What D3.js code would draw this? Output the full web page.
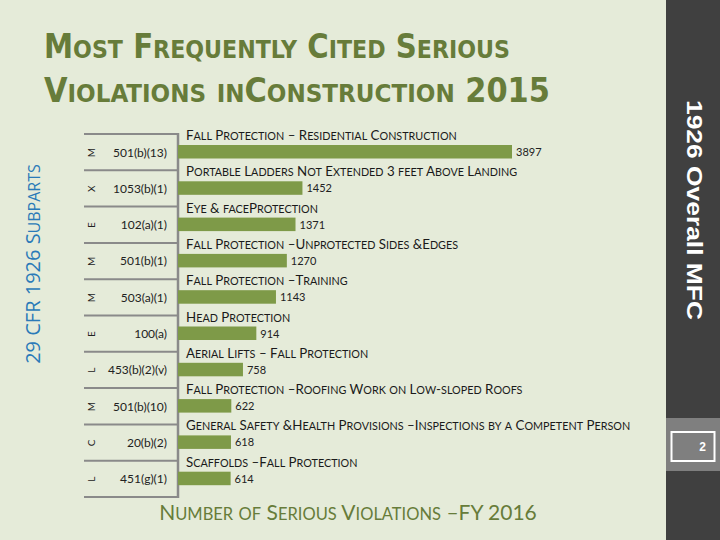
<!DOCTYPE html>
<html>
<head>
<meta charset="utf-8">
<script src="https://cdn.jsdelivr.net/npm/d3@7"></script>
<style>
  body { margin: 0; background: #e5ebd9; }
  svg { display: block; }
</style>
</head>
<body>
<svg id="chart" width="720" height="540"></svg>
<script>
// Chart data
const codes = ['501(b)(13)', '1053(b)(1)', '102(a)(1)', '501(b)(1)', '503(a)(1)',
               '100(a)', '453(b)(2)(v)', '501(b)(10)', '20(b)(2)', '451(g)(1)'];
const subparts = ['M', 'X', 'E', 'M', 'M', 'E', 'L', 'M', 'C', 'L'];
const descriptions = [
    'Fall Protection – Residential Construction',
    'Portable Ladders Not Extended 3 feet  Above Landing',
    'Eye & faceProtection',
    'Fall Protection –Unprotected Sides &Edges',
    'Fall Protection –Training',
    'Head Protection',
    'Aerial Lifts – Fall Protection',
    'Fall Protection –Roofing Work on Low-sloped Roofs',
    'General Safety &Health Provisions –Inspections by a Competent Person',
    'Scaffolds –Fall Protection'
];
const counts = [3897, 1452, 1371, 1270, 1143, 914, 758, 622, 618, 614];

const svg = d3.select('#chart');
const olive = '#677c3a';
const barColor = '#7e9a48';
const lineColor = '#8a8a8a';

// small caps by hand: lowercase letters become smaller capitals
function smallCaps(sel, str, big, small) {
    const runs = [];
    for (const ch of str) {
        const low = ch !== ch.toUpperCase();
        const last = runs[runs.length - 1];
        if (last && last.low === low) last.s += ch;
        else runs.push({ low, s: ch });
    }
    runs.forEach(r => {
        sel.append('tspan')
            .attr('font-size', r.low ? small : big)
            .text(r.s.toUpperCase());
    });
    return sel;
}

// Right side dark panel
svg.append('rect').attr('x', 666).attr('y', 0).attr('width', 54).attr('height', 540).attr('fill', '#404040');
svg.append('rect').attr('x', 666).attr('y', 418).attr('width', 54).attr('height', 53).attr('fill', '#7f7f7f');
svg.append('rect').attr('x', 671.5).attr('y', 432).attr('width', 43).attr('height', 29)
    .attr('fill', 'none').attr('stroke', '#fff').attr('stroke-width', 2);
svg.append('text').attr('x', 706).attr('y', 451).attr('text-anchor', 'end')
    .attr('font-family', 'Liberation Sans, Arial, sans-serif').attr('font-weight', 'bold')
    .attr('font-size', 12).attr('fill', '#fff').text('2');
svg.append('text')
    .attr('transform', 'translate(687,100) rotate(90)')
    .attr('font-family', 'Liberation Sans, Arial, sans-serif').attr('font-weight', 'bold')
    .attr('font-size', 22).attr('fill', '#fff')
    .attr('textLength', 220).attr('lengthAdjust', 'spacingAndGlyphs')
    .text('1926 Overall MFC');

// Title
const title = svg.append('g')
    .attr('font-family', 'Liberation Sans Narrow, DejaVu Sans Condensed, sans-serif')
    .attr('font-weight', 'bold')
    .attr('fill', olive);
smallCaps(title.append('text').attr('x', 44).attr('y', 58)
    .attr('textLength', 466).attr('lengthAdjust', 'spacingAndGlyphs'),
    'Most Frequently Cited Serious', 33, 25);
smallCaps(title.append('text').attr('x', 44).attr('y', 102)
    .attr('textLength', 506).attr('lengthAdjust', 'spacingAndGlyphs'),
    'Violations    inConstruction    2015', 33, 25);

// Left vertical label
smallCaps(svg.append('text')
    .attr('transform', 'translate(40,264) rotate(-90)')
    .attr('text-anchor', 'middle')
    .attr('font-family', 'Open Sans, sans-serif')
    .attr('fill', '#2a7ab8'),
    '29 CFR 1926 Subparts', 20, 16);

// Scales
const y = d3.scaleBand().domain(d3.range(counts.length)).range([134, 497]);
const x = d3.scaleLinear().domain([0, 3897]).range([178, 512]);

// Table separators
svg.append('g').selectAll('line')
    .data(d3.range(counts.length + 1))
    .enter().append('line')
    .attr('x1', 84).attr('x2', 178)
    .attr('y1', d => 134 + d * y.step()).attr('y2', d => 134 + d * y.step())
    .attr('stroke', lineColor).attr('stroke-width', 2);

svg.append('line').attr('x1', 178).attr('x2', 178).attr('y1', 133).attr('y2', 498)
    .attr('stroke', lineColor).attr('stroke-width', 2.5);

// Subpart letters
svg.append('g').selectAll('text')
    .data(subparts)
    .enter().append('text')
    .attr('transform', (d, i) => `translate(${95},${y(i) + 18.5}) rotate(-90)`)
    .attr('text-anchor', 'middle')
    .attr('font-family', 'Lato, sans-serif').attr('font-size', 10).attr('fill', '#222')
    .text(d => d);

// Codes
svg.append('g').selectAll('text')
    .data(codes)
    .enter().append('text')
    .attr('x', 167).attr('y', (d, i) => y(i) + 22.5)
    .attr('text-anchor', 'end')
    .attr('font-family', 'Lato, sans-serif').attr('font-size', 12).attr('fill', '#222')
    .text(d => d);

// Bars
svg.append('g').selectAll('rect')
    .data(counts)
    .enter().append('rect')
    .attr('x', x(0))
    .attr('y', (d, i) => y(i) + 11)
    .attr('width', d => x(d) - x(0))
    .attr('height', 13.5)
    .attr('fill', barColor);

// Value labels
svg.append('g').selectAll('text')
    .data(counts)
    .enter().append('text')
    .attr('x', d => x(d) + 4)
    .attr('y', (d, i) => y(i) + 22)
    .attr('font-family', 'Lato, sans-serif').attr('font-size', 11).attr('fill', '#222')
    .text(d => d);

// Descriptions
svg.append('g')
    .attr('font-family', 'Lato, sans-serif').attr('fill', '#1a1a1a')
    .selectAll('text')
    .data(descriptions)
    .enter().append('text')
    .attr('x', 186)
    .attr('y', (d, i) => y(i) + 6)
    .each(function (d) { smallCaps(d3.select(this), d, 13.3, 10.8); });

// Bottom axis title
smallCaps(svg.append('text')
    .attr('x', 348).attr('y', 520)
    .attr('text-anchor', 'middle')
    .attr('font-family', 'Lato, sans-serif')
    .attr('fill', olive),
    'Number of Serious Violations –FY 2016', 21, 16.5);
</script>
</body>
</html>
